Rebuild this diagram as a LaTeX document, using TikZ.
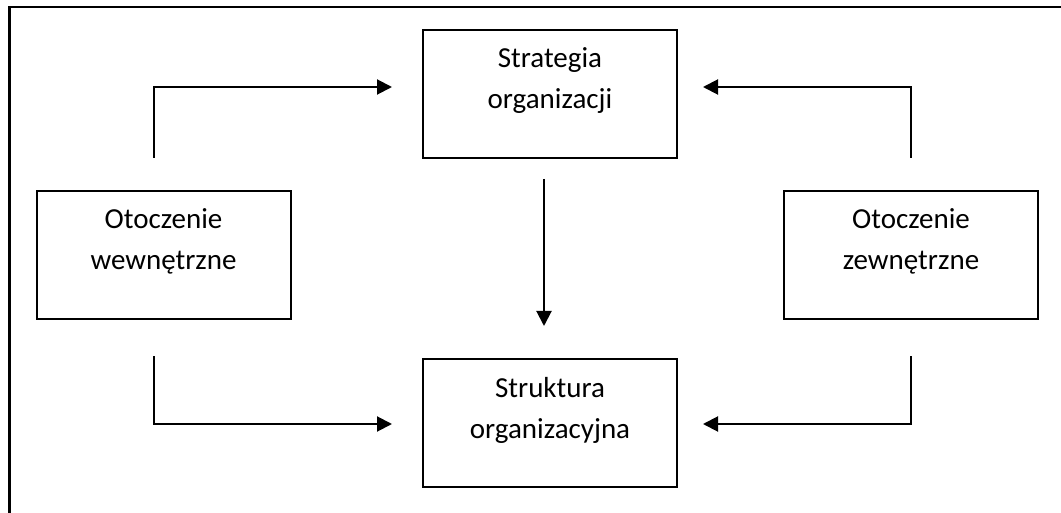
\documentclass[tikz,border=0pt]{standalone}
\usepackage{fontspec}
\setmainfont{Carlito}
\usetikzlibrary{arrows.meta}
\tikzset{
  box/.style={draw=black, line width=2pt, minimum width=254pt, minimum height=128pt, inner sep=0pt},
  txt/.style={anchor=base, inner sep=0pt, font=\fontsize{29}{41}\selectfont},
  conn/.style={draw=black, line width=2pt},
  arr/.style={conn, -{Triangle[length=15pt,width=15pt]}},
  frame/.style={draw=black, line width=2.2pt}
}
\begin{document}
\begin{tikzpicture}[x=1pt,y=-1pt]
\useasboundingbox (0,0) rectangle (1061,513);
\draw[frame] (9.5,513) -- (9.5,7) -- (1061,7);
% boxes
\node[box] (strat) at (550,94) {};
\node[box] (struk) at (550,423) {};
\node[box] (wew) at (163.5,255) {};
\node[box] (zew) at (911,255) {};
% texts
\node[txt] (t1) at ([yshift=-39pt]strat.north) {Strategia};
\node[txt] (t2) at ([yshift=-80pt]strat.north) {organizacji};
\node[txt] (t3) at ([yshift=-39pt]struk.north) {Struktura};
\node[txt] (t4) at ([yshift=-80pt]struk.north) {organizacyjna};
\node[txt] (t5) at ([yshift=-39pt]wew.north) {Otoczenie};
\node[txt] (t6) at ([yshift=-80pt]wew.north) {wewnętrzne};
\node[txt] (t7) at ([yshift=-39pt]zew.north) {Otoczenie};
\node[txt] (t8) at ([yshift=-80pt]zew.north) {zewnętrzne};
% connector start points
\coordinate (wu) at (154,158);
\coordinate (wd) at (154,356);
\coordinate (zu) at (911,158);
\coordinate (zd) at (911,356);
\coordinate (sd) at (544,179);
% connectors
\draw[arr, shorten >=30pt] (wu) |- ([yshift=7pt]strat.west);
\draw[arr, shorten >=25pt] (zu) |- ([yshift=7pt]strat.east);
\draw[arr, shorten >=30pt] (wd) |- ([yshift=-1pt]struk.west);
\draw[arr, shorten >=25pt] (zd) |- ([yshift=-1pt]struk.east);
\draw[arr, shorten >=32pt] (sd) -- (sd |- struk.north);
\end{tikzpicture}
\end{document}
